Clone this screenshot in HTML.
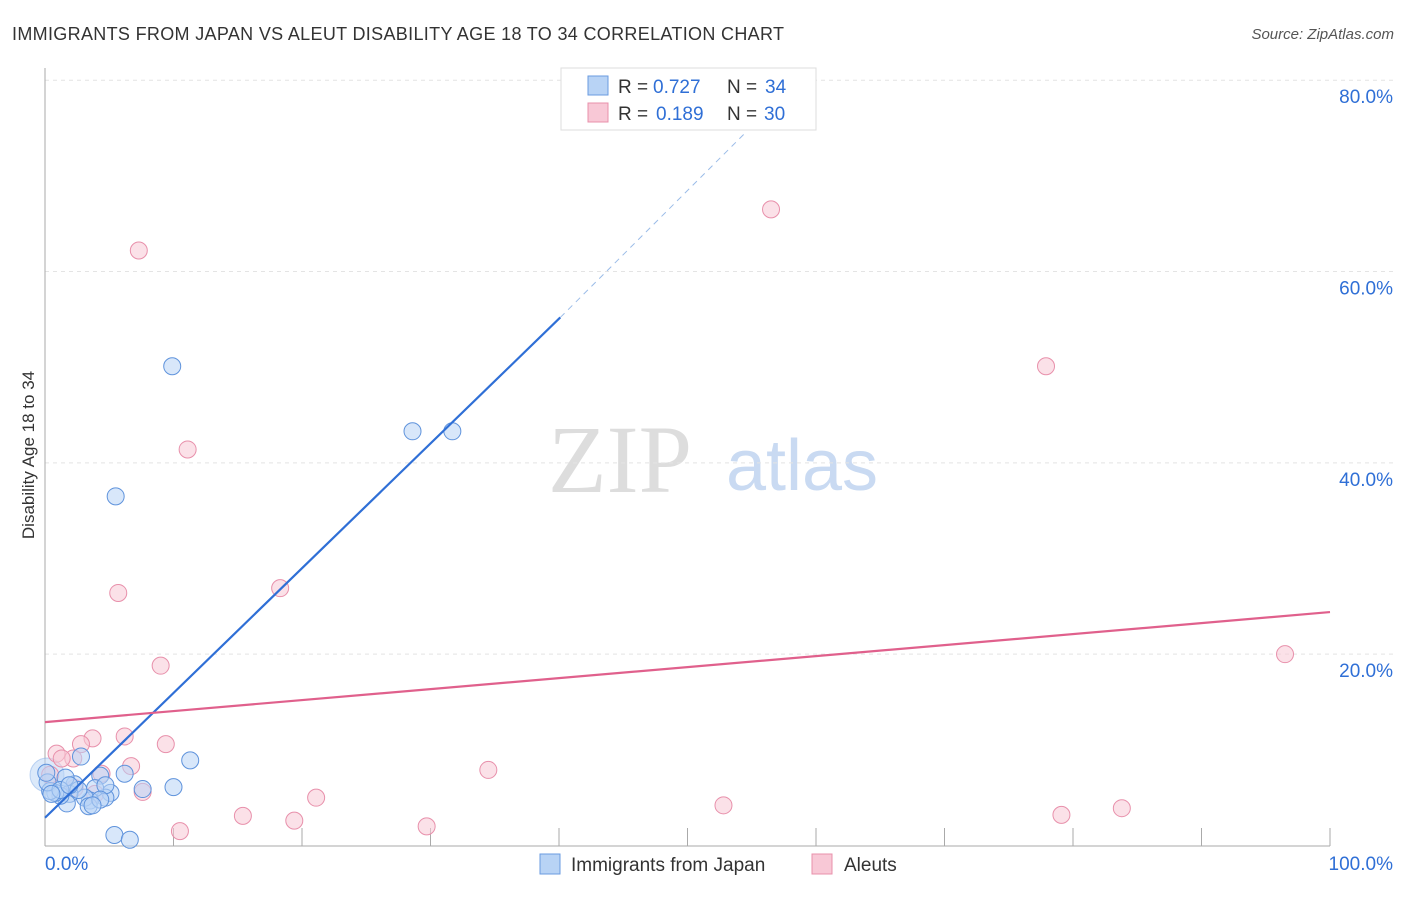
<!DOCTYPE html>
<html><head><meta charset="utf-8"><style>
body{margin:0;background:#fff;font-family:"Liberation Sans",sans-serif}
</style></head><body>
<svg id="c" width="1406" height="892" xmlns="http://www.w3.org/2000/svg">
<text x="12" y="40" font-size="18" fill="#333" textLength="772">IMMIGRANTS FROM JAPAN VS ALEUT DISABILITY AGE 18 TO 34 CORRELATION CHART</text>
<text x="1394" y="39" font-size="15" fill="#555" font-style="italic" text-anchor="end">Source: ZipAtlas.com</text>
<text x="34" y="455" font-size="17" fill="#333" transform="rotate(-90 34 455)" text-anchor="middle">Disability Age 18 to 34</text>
<text x="620" y="492" font-size="96" fill="#ddd" font-family="Liberation Serif,serif" text-anchor="middle">ZIP</text>
<text x="802" y="490" font-size="72" fill="#c9daf2" text-anchor="middle">atlas</text>
<g id="grid"></g><g id="pts"></g><g id="lines"></g>
<g font-size="19">
<rect x="561" y="68" width="255" height="62" fill="#fff" stroke="#ddd"/>
<rect x="588" y="76" width="20" height="19" fill="#b8d3f5" stroke="#6a9be0"/>
<text x="618" y="93" fill="#333">R =</text><text x="653" y="93" fill="#2f6fd6">0.727</text>
<text x="727" y="93" fill="#333">N =</text><text x="765" y="93" fill="#2f6fd6">34</text>
<rect x="588" y="103" width="20" height="19" fill="#f8c8d6" stroke="#e890ab"/>
<text x="618" y="120" fill="#333">R =</text><text x="656" y="120" fill="#2f6fd6">0.189</text>
<text x="727" y="120" fill="#333">N =</text><text x="764" y="120" fill="#2f6fd6">30</text>
</g>
<g>
<rect x="540" y="854" width="20" height="20" fill="#b8d3f5" stroke="#6a9be0"/>
<text x="571" y="871" font-size="19" fill="#333">Immigrants from Japan</text>
<rect x="812" y="854" width="20" height="20" fill="#f8c8d6" stroke="#e890ab"/>
<text x="844" y="871" font-size="19" fill="#333">Aleuts</text>
</g>
</svg>
<script>
const yTicks=[20,40,60,80];
const xTickLabels=["0.0%","100.0%"];
const blueX=[9.9,5.5,28.6,31.7,11.3,10.0,6.2,7.6,2.8,4.3,5.1,4.7,3.9,3.5,3.1,2.3,1.9,1.7,1.2,0.8,0.4,0.2,0.1,5.4,6.6,1.6,4.7,3.4,2.6,1.2,0.5,4.3,3.7,1.9];
const blueY=[50.1,36.5,43.3,43.3,8.9,6.1,7.5,5.9,9.3,7.3,5.5,5.0,6.0,4.7,5.0,6.4,5.4,4.4,5.2,5.5,5.7,6.6,7.6,1.1,0.6,7.1,6.3,4.1,5.8,5.8,5.4,4.8,4.2,6.3];
const pinkX=[7.3,56.5,77.9,11.1,18.3,5.7,9.0,96.5,9.4,6.7,6.2,3.7,2.8,0.9,2.2,1.3,34.5,4.4,7.6,21.1,52.8,79.1,83.8,15.4,19.4,29.7,10.5,0.4,2.3,3.9];
const pinkY=[62.2,66.5,50.1,41.4,26.9,26.4,18.8,20.0,10.6,8.3,11.4,11.2,10.6,9.6,9.1,9.1,7.9,7.5,5.6,5.0,4.2,3.2,3.9,3.1,2.6,2.0,1.5,7.4,6.0,5.4];
const blueLine=[0,2.9,40.1,55.2,54.5,74.5];
const pinkLine=[0,12.9,100,24.4];
const X=v=>45+v*12.85, Y=v=>845.5-v*9.566;
const NS="http://www.w3.org/2000/svg";
function mk(p,t,a){const e=document.createElementNS(NS,t);for(const k in a)e.setAttribute(k,a[k]);p.appendChild(e);return e;}
const g=document.getElementById('grid');
yTicks.forEach(t=>{const l=mk(g,'line',{x1:45,x2:1394,y1:Y(t),y2:Y(t),stroke:'#e4e4e4','stroke-dasharray':'4 4'});


const tx=mk(g,'text',{x:1393,y:Y(t)+23,'font-size':19,fill:'#2f6fd6','text-anchor':'end'});tx.textContent=t.toFixed(1)+'%';

});
mk(g,'line',{x1:45,x2:45,y1:68,y2:846,stroke:'#aaa'});
mk(g,'line',{x1:45,x2:1330,y1:846,y2:846,stroke:'#aaa'});
for(let i=1;i<=10;i++){mk(g,'line',{x1:X(i*10),x2:X(i*10),y1:828,y2:846,stroke:'#aaa'});}
xTickLabels.forEach((s,i)=>{const tx=mk(g,'text',{x:i?1393:45,y:870,'font-size':19,fill:'#2f6fd6','text-anchor':i?'end':'start'});tx.textContent=s;

});
const pg=document.getElementById('pts');
mk(pg,'circle',{cx:47,cy:775,r:17,fill:'#b8d3f5','fill-opacity':0.5,stroke:'#6a9be0','stroke-opacity':0.4});
pinkX.forEach((x,i)=>{const c=mk(pg,'circle',{cx:X(x),cy:Y(pinkY[i]),r:8.5,fill:'#f8c8d6','fill-opacity':0.55,stroke:'#e890ab'});

});
blueX.forEach((x,i)=>{const c=mk(pg,'circle',{cx:X(x),cy:Y(blueY[i]),r:8.5,fill:'#b8d3f5','fill-opacity':0.55,stroke:'#5f93dc'});

});
const lg=document.getElementById('lines');
const bl=mk(lg,'line',{x1:X(blueLine[0]),y1:Y(blueLine[1]),x2:X(blueLine[2]),y2:Y(blueLine[3]),stroke:'#2f6fd6','stroke-width':2.2});


mk(lg,'line',{x1:X(blueLine[2]),y1:Y(blueLine[3]),x2:X(blueLine[4]),y2:Y(blueLine[5]),stroke:'#9bbce8','stroke-width':1,'stroke-dasharray':'6 5'});
const pl=mk(lg,'line',{x1:X(pinkLine[0]),y1:Y(pinkLine[1]),x2:X(pinkLine[2]),y2:Y(pinkLine[3]),stroke:'#e0608c','stroke-width':2.2});


</script>
</body></html>
